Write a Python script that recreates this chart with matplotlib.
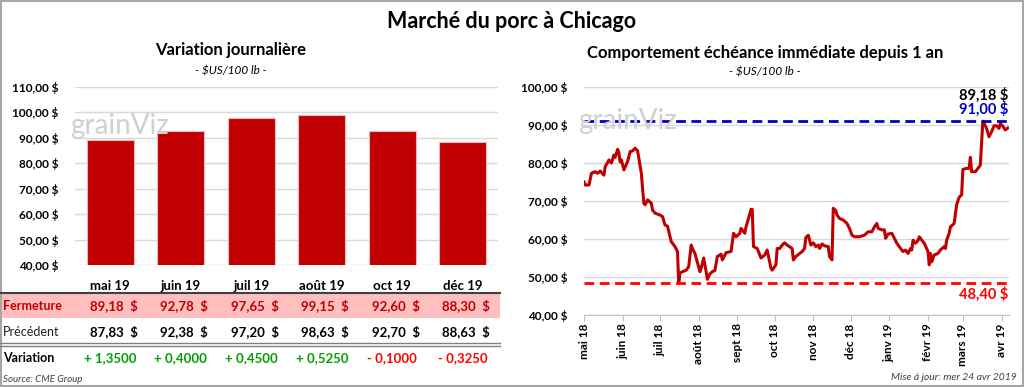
import matplotlib
matplotlib.use("Agg")
import matplotlib.pyplot as plt
import matplotlib.transforms as mtransforms
from matplotlib.patches import Rectangle
from matplotlib.lines import Line2D
import numpy as np
import pandas as pd

plt.rcParams['font.family'] = ['Lato', 'DejaVu Sans']

# ---------------- data ----------------
contracts = ['mai 19', 'juin 19', 'juil 19', 'août 19', 'oct 19', 'déc 19']
close_vals = [89.18, 92.78, 97.65, 99.15, 92.60, 88.30]
prev_vals = [87.83, 92.38, 97.20, 98.63, 92.70, 88.63]
change_vals = [1.3500, 0.4000, 0.4500, 0.5250, -0.1000, -0.3250]
left_yticks = [40, 50, 60, 70, 80, 90, 100, 110]

hist_dates = [
    '2018-05-01', '2018-05-02', '2018-05-05', '2018-05-07', '2018-05-10', '2018-05-12',
    '2018-05-14', '2018-05-15', '2018-05-17', '2018-05-18', '2018-05-21', '2018-05-23',
    '2018-05-25', '2018-05-26', '2018-05-28', '2018-05-29', '2018-05-30', '2018-05-31',
    '2018-06-02', '2018-06-05', '2018-06-07', '2018-06-09', '2018-06-11', '2018-06-13',
    '2018-06-16', '2018-06-18', '2018-06-19', '2018-06-21', '2018-06-24', '2018-06-25',
    '2018-06-27', '2018-07-01', '2018-07-03', '2018-07-05', '2018-07-07', '2018-07-10',
    '2018-07-13', '2018-07-15', '2018-07-16', '2018-07-17', '2018-07-19', '2018-07-22',
    '2018-07-24', '2018-07-26', '2018-07-27', '2018-07-29', '2018-08-02', '2018-08-03',
    '2018-08-05', '2018-08-07', '2018-08-08', '2018-08-10', '2018-08-12', '2018-08-14',
    '2018-08-16', '2018-08-19', '2018-08-20', '2018-08-23', '2018-08-27', '2018-08-29',
    '2018-08-31', '2018-09-03', '2018-09-04', '2018-09-07', '2018-09-08', '2018-09-10',
    '2018-09-12', '2018-09-13', '2018-09-14', '2018-09-17', '2018-09-20', '2018-09-23',
    '2018-09-25', '2018-09-28', '2018-09-29', '2018-10-02', '2018-10-03', '2018-10-05',
    '2018-10-07', '2018-10-09', '2018-10-11', '2018-10-15', '2018-10-16', '2018-10-18',
    '2018-10-21', '2018-10-23', '2018-10-25', '2018-10-26', '2018-10-28', '2018-10-30',
    '2018-11-01', '2018-11-03', '2018-11-05', '2018-11-06', '2018-11-08', '2018-11-10',
    '2018-11-13', '2018-11-14', '2018-11-16', '2018-11-17', '2018-11-19', '2018-11-20',
    '2018-11-22', '2018-11-25', '2018-11-28', '2018-11-30', '2018-12-02', '2018-12-04',
    '2018-12-08', '2018-12-12', '2018-12-15', '2018-12-18', '2018-12-20', '2018-12-22',
    '2018-12-23', '2018-12-26', '2018-12-28', '2018-12-29', '2018-12-31', '2019-01-03',
    '2019-01-05', '2019-01-07', '2019-01-10', '2019-01-12', '2019-01-14', '2019-01-16',
    '2019-01-18', '2019-01-19', '2019-01-20', '2019-01-22', '2019-01-24', '2019-01-25',
    '2019-01-27', '2019-01-29', '2019-02-01', '2019-02-02', '2019-02-03', '2019-02-04',
    '2019-02-06', '2019-02-09', '2019-02-11', '2019-02-14', '2019-02-15', '2019-02-16',
    '2019-02-18', '2019-02-19', '2019-02-22', '2019-02-24', '2019-02-26', '2019-02-28',
    '2019-03-01', '2019-03-04', '2019-03-06', '2019-03-07', '2019-03-08', '2019-03-11',
    '2019-03-14', '2019-03-15', '2019-03-17', '2019-03-18', '2019-03-20', '2019-03-22',
    '2019-03-24', '2019-03-26', '2019-03-28', '2019-03-30', '2019-03-31', '2019-04-02',
    '2019-04-04', '2019-04-06',
]
hist_vals = [
    75.0, 74.2, 74.2, 77.3, 77.7, 77.3,
    77.9, 77.5, 76.8, 79.0, 80.8, 80.0,
    82.1, 81.5, 83.6, 82.7, 80.3, 80.8,
    78.2, 80.4, 83.0, 83.2, 83.9, 83.2,
    77.3, 69.4, 69.0, 70.3, 69.4, 67.6,
    66.8, 66.3, 65.9, 63.7, 63.4, 59.3,
    58.0, 56.7, 48.4, 51.0, 51.4, 51.8,
    52.7, 58.4, 57.5, 56.2, 51.4, 52.3,
    55.0, 51.4, 49.4, 50.8, 51.4, 51.7,
    55.4, 56.0, 54.5, 56.4, 56.7, 61.5,
    60.6, 61.5, 62.8, 61.5, 63.2, 65.4,
    67.8, 67.8, 58.0, 57.5, 55.0, 55.8,
    57.1, 52.3, 51.8, 53.2, 57.5, 57.5,
    58.4, 59.0, 58.4, 57.5, 54.5, 55.4,
    56.2, 56.7, 57.5, 60.4, 61.0, 58.4,
    59.0, 58.0, 58.4, 57.5, 58.7, 58.2,
    58.0, 55.4, 54.5, 68.1, 67.5, 66.3,
    65.4, 65.0, 64.1, 62.8, 61.0, 60.6,
    60.6, 61.0, 61.9, 61.9, 63.2, 64.1,
    62.8, 62.4, 62.4, 60.2, 61.3, 61.5,
    60.2, 58.9, 57.5, 56.7, 57.1, 56.2,
    57.5, 57.1, 59.7, 58.9, 59.6, 60.6,
    59.7, 58.9, 56.7, 53.2, 56.2, 54.0,
    55.8, 56.2, 57.1, 58.0, 57.5, 59.7,
    61.5, 63.2, 64.1, 69.0, 71.0, 71.6,
    78.3, 78.6, 78.6, 81.5, 77.7, 77.7,
    79.0, 79.5, 91.0, 90.4, 89.1, 86.9,
    88.2, 89.8, 89.8, 89.1, 90.4, 89.7,
    88.7, 89.18,
]
hist_high = 91.00
hist_low = 48.40
last_close = 89.18
month_labels = ['mai 18', 'juin 18', 'juil 18', 'août 18', 'sept 18', 'oct 18',
                'nov 18', 'déc 18', 'janv 19', 'févr 19', 'mars 19', 'avr 19']
month_starts = ['2018-05-01', '2018-06-01', '2018-07-01', '2018-08-01', '2018-09-01',
                '2018-10-01', '2018-11-01', '2018-12-01', '2019-01-01', '2019-02-01',
                '2019-03-01', '2019-04-01']
right_yticks = [40, 50, 60, 70, 80, 90, 100]

# ---------------- figure ----------------
W, H = 1024, 387
fig = plt.figure(figsize=(W / 100, H / 100), dpi=100)
fig.patch.set_facecolor('white')


def fy(px):
    return 1 - px / H


def fx(px):
    return px / W


def money(v, dec=2):
    return f"{v:,.{dec}f}".replace(',', ' ').replace('.', ',') + ' $'


RED = '#C00000'
GRID = '#d9d9d9'
WATER = '#d0d0d0'

fig.text(0.5, fy(22), 'Marché du porc à Chicago', ha='center', va='center',
         fontsize=15.5, fontweight='bold')

# ---------------- left: bar chart ----------------
ax1 = fig.add_axes([fx(75), fy(265), fx(498) - fx(75), fy(87) - fy(265)])
x = np.arange(len(contracts))
ax1.bar(x, close_vals, width=0.66, color=RED, edgecolor='#f2b8b8', linewidth=0.8, zorder=3)
ax1.set_xlim(-0.5, len(contracts) - 0.5)
ax1.set_ylim(40, 110)
ax1.set_yticks(left_yticks)
ax1.set_yticklabels([money(v) for v in left_yticks], fontsize=8.5, fontweight='bold')
ax1.set_xticks([])
ax1.grid(axis='y', color=GRID, linewidth=1, zorder=0)
for s in ax1.spines.values():
    s.set_visible(False)
ax1.tick_params(axis='y', length=0, pad=12)
ax1.set_facecolor('none')

fig.text(fx(231), fy(50), 'Variation journalière', ha='center', va='center',
         fontsize=12, fontweight='bold')
fig.text(fx(231), fy(71), '- $US/100 lb -', ha='center', va='center',
         fontsize=8.5, style='italic')
fig.text(fx(70), fy(126), 'grainViz', ha='left', va='center', fontsize=20,
         color=WATER, zorder=0)

# table
tr = mtransforms.blended_transform_factory(ax1.transData, fig.transFigure)
fig.add_artist(Rectangle((0, fy(318)), fx(500), fy(293) - fy(318), transform=fig.transFigure,
                         facecolor='#ffbfbf', edgecolor='none', zorder=0))
fig.add_artist(Line2D([0, fx(500)], [fy(293), fy(293)], transform=fig.transFigure,
                      color='#404040', linewidth=1.5))
fig.add_artist(Line2D([0, fx(500)], [fy(343), fy(343)], transform=fig.transFigure,
                      color='#808080', linewidth=1))
fig.add_artist(Line2D([0, fx(500)], [fy(345.5), fy(345.5)], transform=fig.transFigure,
                      color='#808080', linewidth=1))

fig.text(fx(3), fy(306), 'Fermeture', ha='left', va='center', fontsize=9,
         color=RED, fontweight='bold')
fig.text(fx(3), fy(332), 'Précédent', ha='left', va='center', fontsize=9, color='#222222')
fig.text(fx(3), fy(358), 'Variation', ha='left', va='center', fontsize=9,
         fontweight='bold')
for i, c in enumerate(contracts):
    fig.text(i, fy(286), c, transform=tr, ha='center', va='center', fontsize=9.5,
             fontweight='bold')
    fig.text(i + 0.39, fy(306), money(close_vals[i]).replace(' $', '  $'), transform=tr,
             ha='right', va='center', fontsize=9.5, fontweight='bold', color=RED)
    fig.text(i + 0.39, fy(332), money(prev_vals[i]).replace(' $', '  $'), transform=tr,
             ha='right', va='center', fontsize=9.5, fontweight='bold', color='black')
    cv = change_vals[i]
    s = ('+ ' if cv >= 0 else '- ') + f"{abs(cv):.4f}".replace('.', ',')
    fig.text(i, fy(358), s, transform=tr, ha='center', va='center', fontsize=9.5,
             fontweight='bold', color='#00a000' if cv >= 0 else '#ff0000')

fig.text(fx(3), fy(379), 'Source: CME Group', ha='left', va='center', fontsize=7,
         style='italic', color='#404040')

# ---------------- right: line chart ----------------
ax2 = fig.add_axes([fx(584), fy(315), fx(1009) - fx(584), fy(87) - fy(315)])
d = pd.to_datetime(hist_dates)
ax2.plot(d, hist_vals, color=RED, linewidth=2.2, zorder=3)
xmin = pd.Timestamp(month_starts[0])
xmax = pd.Timestamp('2019-04-07')
ax2.set_xlim(xmin, xmax)
ax2.set_ylim(40, 100)
ax2.axhline(hist_high, color='#0000c0', linewidth=2, dashes=(3.5, 2), zorder=4)
ax2.axhline(hist_low, color='#ff0000', linewidth=2, dashes=(3.5, 2), zorder=4)
ax2.set_yticks(right_yticks)
ax2.set_yticklabels([money(v) for v in right_yticks], fontsize=8.5, fontweight='bold')
ax2.set_xticks(pd.to_datetime(month_starts))
ax2.set_xticklabels(month_labels, rotation=90, fontsize=8.5, fontweight='bold')
ax2.grid(axis='y', color=GRID, linewidth=1, zorder=0)
for k, s in ax2.spines.items():
    s.set_visible(k == 'bottom')
ax2.spines['bottom'].set_color('#bfbfbf')
ax2.tick_params(axis='y', length=0, pad=12)
ax2.tick_params(axis='x', length=4, color='#bfbfbf', pad=2)
ax2.set_facecolor('none')

fig.text(fx(765), fy(53), 'Comportement échéance immédiate depuis 1 an', ha='center',
         va='center', fontsize=12, fontweight='bold')
fig.text(fx(765), fy(72), '- $US/100 lb -', ha='center', va='center', fontsize=8.5,
         style='italic')
fig.text(fx(578), fy(121), 'grainViz', ha='left', va='center', fontsize=20,
         color=WATER, zorder=0)

fig.text(fx(1008), fy(95), money(last_close), ha='right', va='center', fontsize=10.5,
         fontweight='bold', color='black')
fig.text(fx(1008), fy(109), money(hist_high), ha='right', va='center', fontsize=10.5,
         fontweight='bold', color='#0000c0')
fig.text(fx(1008), fy(294), money(hist_low), ha='right', va='center', fontsize=10.5,
         fontweight='bold', color='#ff0000')
fig.text(fx(1017), fy(378), 'Mise à jour: mer 24 avr 2019', ha='right', va='center',
         fontsize=7.5, style='italic', color='#404040')

# outer frame
fig.add_artist(Rectangle((0.001, 0.002), 0.998, 0.996, transform=fig.transFigure,
                         facecolor='none', edgecolor='#a6a6a6', linewidth=1.5))

fig.savefig('out.png', dpi=100)
